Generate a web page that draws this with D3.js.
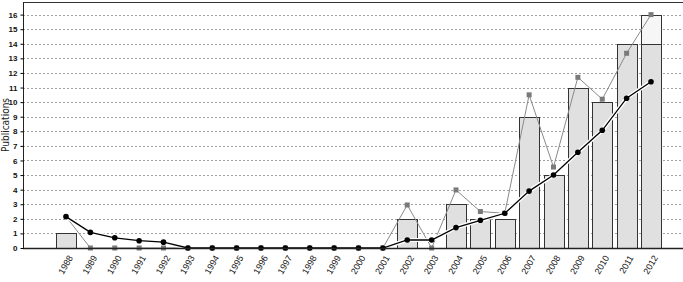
<!DOCTYPE html>
<html>
<head>
<meta charset="utf-8">
<script src="https://cdn.jsdelivr.net/npm/d3@7"></script>
<style>
  body { margin: 0; background: #fff; }
  svg { display: block; font-family: "DejaVu Sans Condensed", "DejaVu Sans", sans-serif; }
</style>
</head>
<body>
<div id="chart"></div>
<script>
var width = 683;
var height = 282;

// data
var years = d3.range(1988, 2013).map(String);
var bars = [1, 0, 0, 0, 0, 0, 0, 0, 0, 0, 0, 0, 0, 0, 2, 0, 3, 2, 2, 9, 5, 11, 10, 14, 14];
var barsExtra = [0, 0, 0, 0, 0, 0, 0, 0, 0, 0, 0, 0, 0, 0, 0, 0, 0, 0, 0, 0, 0, 0, 0, 0, 2];
var grayLine = [2.15, 0, 0, 0, 0, 0, 0, 0, 0, 0, 0, 0, 0, 0, 2.95, 0, 3.98, 2.5, 2.38, 10.5, 5.55, 11.7, 10.2, 13.35, 16];
var blackLine = [2.15, 1.07, 0.7, 0.5, 0.4, 0, 0, 0, 0, 0, 0, 0, 0, 0, 0.55, 0.55, 1.4, 1.9, 2.38, 3.9, 5.0, 6.56, 8.07, 10.27, 11.4];
var yTicks = d3.range(0, 17);

var svg = d3.select("#chart")
    .append("svg")
    .attr("width", width)
    .attr("height", height);

var x = d3.scalePoint().domain(years).range([66, 651]);
var y = d3.scaleLinear().domain([0, 16]).range([248, 14.6]);
var barW = 20;

// grid
svg.append("g")
    .selectAll("line")
    .data(yTicks.filter(d => d > 0))
    .enter()
    .append("line")
    .attr("x1", 23)
    .attr("x2", width)
    .attr("y1", d => Math.round(y(d)) + 0.5)
    .attr("y2", d => Math.round(y(d)) + 0.5)
    .style("stroke", "#a0a0a0")
    .style("stroke-dasharray", "2,2");

// bars
var barData = years.map((yr, i) => ({ yr: yr, v: bars[i], e: barsExtra[i] }));
svg.append("g")
    .selectAll("rect")
    .data(barData.filter(d => d.v > 0))
    .enter()
    .append("rect")
    .attr("x", d => Math.round(x(d.yr) - barW / 2) + 0.5)
    .attr("y", d => Math.round(y(d.v)) + 0.5)
    .attr("width", barW)
    .attr("height", d => Math.round(y(0)) - Math.round(y(d.v)))
    .style("fill", "#e0e0e0")
    .style("stroke", "#333");

svg.append("g")
    .selectAll("rect")
    .data(barData.filter(d => d.e > 0))
    .enter()
    .append("rect")
    .attr("x", d => Math.round(x(d.yr) - barW / 2) + 0.5)
    .attr("y", d => Math.round(y(d.v + d.e)) + 0.5)
    .attr("width", barW)
    .attr("height", d => Math.round(y(d.v)) - Math.round(y(d.v + d.e)))
    .style("fill", "#f6f6f6")
    .style("stroke", "#333");

// gray line with squares
var line = d3.line().x(d => x(d.yr)).y(d => y(d.v));
var grayData = years.map((yr, i) => ({ yr: yr, v: grayLine[i] }));
svg.append("path")
    .datum(grayData)
    .attr("d", line)
    .style("fill", "none")
    .style("stroke", "#8a8a8a")
    .style("stroke-width", 1);
svg.append("g")
    .selectAll("rect")
    .data(grayData.slice(1))
    .enter()
    .append("rect")
    .attr("x", d => x(d.yr) - 2.5)
    .attr("y", d => y(d.v) - 2.5)
    .attr("width", 5)
    .attr("height", 5)
    .style("fill", "#7a7a7a");

// black line with circles, white halo
var blackData = years.map((yr, i) => ({ yr: yr, v: blackLine[i] }));
svg.append("path")
    .datum(blackData)
    .attr("d", line)
    .style("fill", "none")
    .style("stroke", "#fff")
    .style("stroke-width", 4);
svg.append("path")
    .datum(blackData)
    .attr("d", line)
    .style("fill", "none")
    .style("stroke", "#000")
    .style("stroke-width", 1.3);
svg.append("g")
    .selectAll("circle")
    .data(blackData)
    .enter()
    .append("circle")
    .attr("cx", d => x(d.yr))
    .attr("cy", d => y(d.v))
    .attr("r", 2.8)
    .style("fill", "#000");

// frame
svg.append("line")
    .attr("x1", 23).attr("x2", width)
    .attr("y1", 2.5).attr("y2", 2.5)
    .style("stroke", "#333");
svg.append("line")
    .attr("x1", 23).attr("x2", width)
    .attr("y1", 248.5).attr("y2", 248.5)
    .style("stroke", "#222")
    .style("stroke-width", 1.5);
svg.append("line")
    .attr("x1", 23.5).attr("x2", 23.5)
    .attr("y1", 2).attr("y2", 249)
    .style("stroke", "#222");

// y axis
var yAxis = svg.append("g")
    .attr("transform", "translate(23.5,0)")
    .call(d3.axisLeft(y).tickValues(yTicks).tickFormat(d3.format("d")).tickSize(3).tickSizeOuter(0));
yAxis.select(".domain").remove();
yAxis.selectAll("text")
    .style("font-size", "8px")
    .style("font-weight", "bold")
    .style("fill", "#111")
    .attr("x", -6);

// x labels
var xAxis = svg.append("g")
    .attr("transform", "translate(0,248)")
    .call(d3.axisBottom(x).tickSize(0).tickSizeOuter(0));
xAxis.select(".domain").remove();
xAxis.selectAll("text")
    .style("font-size", "9px")
    .style("fill", "#111")
    .attr("text-anchor", "end")
    .attr("dy", "0.35em")
    .attr("y", 0)
    .attr("transform", "translate(4,8) rotate(-60)");

svg.append("text")
    .attr("transform", "translate(9,125) rotate(-90)")
    .attr("text-anchor", "middle")
    .style("font-size", "10px")
    .style("fill", "#222")
    .text("Publications");
</script>
</body>
</html>
